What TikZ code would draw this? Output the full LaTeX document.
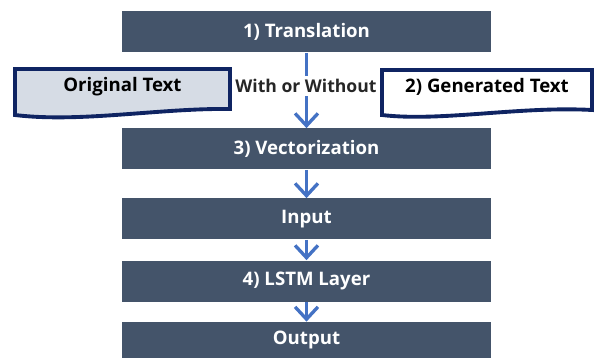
\documentclass[tikz,border=0pt]{standalone}
\usepackage{fontspec}
\setmainfont{Open Sans}
\usetikzlibrary{arrows.meta,positioning}
\definecolor{slate}{HTML}{44546A}
\definecolor{flow}{HTML}{4472C4}
\definecolor{navy}{HTML}{0F2462}
\definecolor{paper}{HTML}{D6DCE5}
\definecolor{ink}{HTML}{262626}

\tikzset{
  stage/.style={fill=slate,text=white,minimum width=7.38cm,minimum height=0.82cm,inner sep=0pt},
  flowarrow/.style={draw=flow,line width=1.9pt,-{Straight Barb[length=7pt,width=13pt]}},
  paperedge/.style={draw=navy,line width=2.2pt,line join=miter},
}

\begin{document}
\begin{tikzpicture}[font=\bfseries\fontsize{10.6}{12}\selectfont]
\useasboundingbox (0,0) rectangle (11.9,7.16);
% paper shapes
\draw[paperedge,fill=paper] (0.30,5.78) -- (4.60,5.78) -- (4.60,4.98)
  .. controls (3.2,5.00) and (1.6,4.70) .. (0.30,4.86) -- cycle;
\draw[paperedge,fill=white] (7.64,5.76) -- (11.84,5.76) -- (11.84,4.96)
  .. controls (10.4,5.04) and (8.8,4.72) .. (7.64,4.86) -- cycle;

\node[stage] (trans) at (6.13,6.52) {1) Translation};
\node[stage] (vect) at (6.13,4.18) {3) Vectorization};
\node[stage] (input) at (6.13,2.78) {Input};
\node[stage] (lstm) at (6.13,1.54) {4) LSTM Layer};
\node[stage,minimum height=0.72cm] (output) at (6.13,0.36) {Output};

\node (orig) at (2.45,5.42) {Original Text};
\node (gen) at (9.74,5.42) {2) Generated Text};

\draw[flowarrow] (trans) -- (vect);
\node[fill=white,text=ink,inner xsep=0pt,inner ysep=2pt,font=\bfseries\fontsize{10}{12}\selectfont]
  (mode) at (6.12,5.44) {With or Without};
\draw[flowarrow] (vect) -- (input);
\draw[flowarrow] (input) -- (lstm);
\draw[flowarrow] (lstm) -- (output);
\end{tikzpicture}
\end{document}
